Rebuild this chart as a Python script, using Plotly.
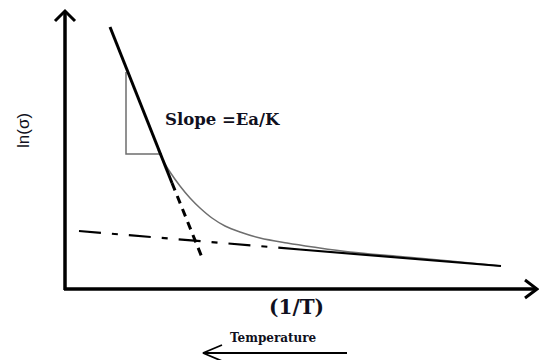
import plotly.graph_objects as go

# Schematic coordinates (x = 1/T direction, y = ln(sigma) direction, top-down frame)
curve_x = [158, 164, 170, 180, 190, 200, 212, 225, 240, 260, 287, 313, 350, 400, 450, 501]
curve_y = [150, 162, 172, 186, 198, 208, 218, 226, 232, 238, 243, 247, 252, 256.5, 261, 266]

steep_solid_x = [110, 172]
steep_solid_y = [27, 183]
steep_dash_x = [172, 203]
steep_dash_y = [183, 260]

flat_dash_x = [79, 300]
flat_dash_y = [231, 249.5]
flat_solid_x = [300, 501]
flat_solid_y = [249.5, 266]

tri_x = [126, 126, 162]
tri_y = [72, 154, 154]

yaxis_x = [65, 65]
yaxis_y = [290, 11]
yhead_x = [55, 65, 75]
yhead_y = [21, 11, 21]

xaxis_x = [64, 537]
xaxis_y = [289, 289]
xhead_x = [525, 537, 525]
xhead_y = [280, 289, 298]

temp_x = [203, 347]
temp_y = [353, 353]
temphead_x = [222, 203, 222]
temphead_y = [345, 353, 361]

fig = go.Figure()

def add_line(x, y, width, color="black", dash="solid", shape="linear"):
    fig.add_trace(go.Scatter(x=x, y=y, mode="lines",
                             line=dict(color=color, width=width, dash=dash, shape=shape),
                             cliponaxis=False,
                             hoverinfo="skip", showlegend=False))

add_line(curve_x, curve_y, 1.5, color="#6e6e6e", shape="spline")
add_line(tri_x, tri_y, 1.5, color="#6e6e6e")
add_line(flat_dash_x, flat_dash_y, 2.2, dash="22px,11px,6px,11px")
add_line(flat_solid_x, flat_solid_y, 2.2)
add_line(steep_solid_x, steep_solid_y, 3)
add_line(steep_dash_x, steep_dash_y, 3, dash="8px,6px")
add_line(yaxis_x, yaxis_y, 3.5)
add_line(yhead_x, yhead_y, 3)
add_line(xaxis_x, xaxis_y, 3.5)
add_line(xhead_x, xhead_y, 3)
add_line(temp_x, temp_y, 1.8)
add_line(temphead_x, temphead_y, 1.8)

serif = "DejaVu Serif, serif"
fig.add_annotation(x=163, y=119, text="<b>Slope =Ea/K</b>", showarrow=False,
                   xanchor="left", yanchor="middle",
                   font=dict(family=serif, size=16.5, color="#101020"))
fig.add_annotation(x=23, y=131, text="ln(σ)", showarrow=False, textangle=-90,
                   xanchor="center", yanchor="middle",
                   font=dict(family="Liberation Sans, Arial, sans-serif", size=17, color="#101020"))
fig.add_annotation(x=296, y=307, text="<b>(1/T)</b>", showarrow=False,
                   xanchor="center", yanchor="middle",
                   font=dict(family=serif, size=20, color="#101020"))
fig.add_annotation(x=273, y=338, text="<b>Temperature</b>", showarrow=False,
                   xanchor="center", yanchor="middle",
                   font=dict(family=serif, size=12, color="#101020"))

fig.update_layout(
    width=539, height=360,
    margin=dict(l=0, r=0, t=0, b=0),
    paper_bgcolor="white", plot_bgcolor="white",
    xaxis=dict(range=[0, 539], visible=False, fixedrange=True),
    yaxis=dict(range=[360, 0], visible=False, fixedrange=True),
)

fig.write_html("out.html", config={"displayModeBar": False},
               post_script="document.body.style.margin='0';document.body.style.overflow='hidden';")
